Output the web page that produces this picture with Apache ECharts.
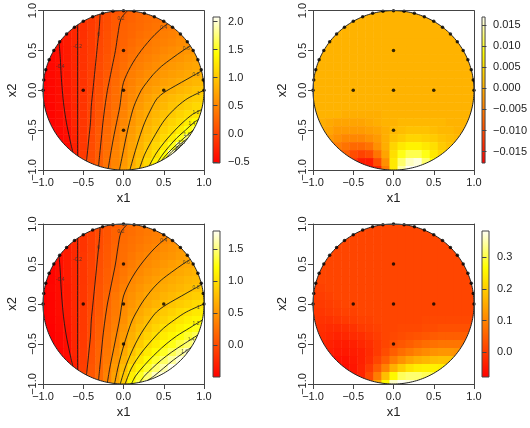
<!DOCTYPE html>
<html>
<head>
<meta charset="utf-8">
<title>Disk surfaces</title>
<script src="https://cdn.jsdelivr.net/npm/echarts@6/dist/echarts.min.js"></script>
<style>
  html, body { margin: 0; background: #fff; }
  #main { width: 530px; height: 428px; }
</style>
</head>
<body>
<div id="main"></div>
<script>
// grid nodes along each axis (step 0.1); every surface row below only lists
// the cells that touch the disk, centred on x1 = 0, top row (x2 = 1) first
var nodes = [-1, -0.9, -0.8, -0.7, -0.6, -0.5, -0.4, -0.3, -0.2, -0.1, 0,
  0.1, 0.2, 0.3, 0.4, 0.5, 0.6, 0.7, 0.8, 0.9, 1];

// top left surface
var surfA = [
  [0.0, 0.06, 0.12, 0.18, 0.23, 0.27, 0.30],
  [-0.12, -0.08, 0.0, 0.07, 0.16, 0.21, 0.24, 0.28, 0.31, 0.34, 0.36],
  [-0.25, -0.22, -0.15, -0.07, 0.0, 0.08, 0.16, 0.22, 0.26, 0.29, 0.33, 0.36, 0.40, 0.43, 0.45],
  [-0.34, -0.31, -0.23, -0.15, -0.07, 0.01, 0.09, 0.18, 0.23, 0.27, 0.32, 0.36, 0.40, 0.44, 0.47, 0.51, 0.52],
  [-0.40, -0.31, -0.23, -0.14, -0.06, 0.02, 0.10, 0.19, 0.24, 0.30, 0.35, 0.40, 0.44, 0.47, 0.50, 0.54, 0.57],
  [-0.46, -0.41, -0.32, -0.23, -0.14, -0.06, 0.03, 0.11, 0.20, 0.26, 0.33, 0.39, 0.43, 0.47, 0.51, 0.55, 0.59, 0.62, 0.64],
  [-0.47, -0.41, -0.32, -0.23, -0.14, -0.05, 0.04, 0.13, 0.22, 0.29, 0.36, 0.42, 0.47, 0.51, 0.56, 0.60, 0.63, 0.67, 0.70],
  [-0.50, -0.47, -0.41, -0.32, -0.23, -0.14, -0.05, 0.05, 0.14, 0.24, 0.32, 0.41, 0.46, 0.51, 0.56, 0.61, 0.65, 0.68, 0.72, 0.75, 0.77],
  [-0.51, -0.46, -0.41, -0.33, -0.23, -0.13, -0.04, 0.06, 0.16, 0.26, 0.36, 0.44, 0.50, 0.56, 0.61, 0.65, 0.69, 0.72, 0.76, 0.80, 0.84],
  [-0.52, -0.47, -0.42, -0.33, -0.23, -0.13, -0.03, 0.07, 0.18, 0.29, 0.40, 0.47, 0.54, 0.61, 0.65, 0.70, 0.74, 0.79, 0.84, 0.88, 0.92],
  [-0.52, -0.47, -0.42, -0.34, -0.23, -0.13, -0.02, 0.09, 0.20, 0.31, 0.42, 0.50, 0.58, 0.65, 0.71, 0.77, 0.82, 0.87, 0.91, 0.96, 1.00],
  [-0.52, -0.47, -0.42, -0.34, -0.23, -0.12, -0.01, 0.10, 0.22, 0.32, 0.43, 0.53, 0.62, 0.70, 0.78, 0.84, 0.90, 0.95, 1.00, 1.05, 1.09],
  [-0.52, -0.48, -0.43, -0.35, -0.24, -0.12, 0.0, 0.12, 0.23, 0.34, 0.45, 0.57, 0.66, 0.75, 0.83, 0.89, 0.96, 1.02, 1.07, 1.13, 1.18],
  [-0.52, -0.49, -0.44, -0.37, -0.24, -0.12, 0.01, 0.13, 0.25, 0.36, 0.48, 0.60, 0.70, 0.79, 0.87, 0.95, 1.02, 1.09, 1.16, 1.24, 1.31],
  [-0.50, -0.45, -0.39, -0.24, -0.11, 0.01, 0.14, 0.27, 0.38, 0.51, 0.63, 0.73, 0.83, 0.92, 1.01, 1.09, 1.17, 1.29, 1.43],
  [-0.50, -0.46, -0.41, -0.25, -0.11, 0.03, 0.16, 0.28, 0.41, 0.54, 0.66, 0.77, 0.87, 0.97, 1.07, 1.16, 1.29, 1.46, 1.62],
  [-0.48, -0.42, -0.26, -0.10, 0.04, 0.17, 0.30, 0.43, 0.56, 0.69, 0.81, 0.92, 1.03, 1.14, 1.29, 1.49, 1.75],
  [-0.46, -0.44, -0.28, -0.09, 0.05, 0.18, 0.32, 0.46, 0.59, 0.72, 0.85, 0.99, 1.11, 1.26, 1.49, 1.85, 2.02],
  [-0.35, -0.30, -0.08, 0.07, 0.19, 0.34, 0.48, 0.61, 0.75, 0.90, 1.05, 1.20, 1.44, 1.90, 2.00],
  [-0.02, 0.08, 0.21, 0.36, 0.50, 0.64, 0.79, 0.96, 1.13, 1.33, 1.55],
  [0.21, 0.38, 0.53, 0.67, 0.83, 1.00, 1.17]
];
// top right surface
var surfB = [
  [0.0005, 0.0005, 0.0005, 0.0005, 0.0005, 0.0005, 0.0005],
  [0.0005, 0.0005, 0.0005, 0.0005, 0.0005, 0.0005, 0.0005, 0.0005, 0.0005, 0.0005, 0.0005],
  [0.0005, 0.0005, 0.0005, 0.0005, 0.0005, 0.0005, 0.0005, 0.0005, 0.0005, 0.0005, 0.0005, 0.0005, 0.0005, 0.0005, 0.0005],
  [0.0005, 0.0005, 0.0005, 0.0005, 0.0005, 0.0005, 0.0005, 0.0005, 0.0005, 0.0005, 0.0005, 0.0005, 0.0005, 0.0005, 0.0005, 0.0005, 0.0005],
  [0.0005, 0.0005, 0.0005, 0.0005, 0.0005, 0.0005, 0.0005, 0.0005, 0.0005, 0.0005, 0.0005, 0.0005, 0.0005, 0.0005, 0.0005, 0.0005, 0.0005],
  [0.0005, 0.0005, 0.0005, 0.0005, 0.0005, 0.0005, 0.0005, 0.0005, 0.0005, 0.0005, 0.0005, 0.0005, 0.0005, 0.0005, 0.0005, 0.0005, 0.0005, 0.0005, 0.0005],
  [0.0005, 0.0005, 0.0005, 0.0005, 0.0005, 0.0005, 0.0005, 0.0005, 0.0005, 0.0005, 0.0005, 0.0005, 0.0005, 0.0005, 0.0005, 0.0005, 0.0005, 0.0005, 0.0005],
  [0.0005, 0.0005, 0.0005, 0.0005, 0.0005, 0.0005, 0.0005, 0.0005, 0.0005, 0.0005, 0.0005, 0.0005, 0.0005, 0.0005, 0.0005, 0.0005, 0.0005, 0.0005, 0.0005, 0.0005, 0.0005],
  [0.0005, 0.0005, 0.0005, 0.0005, 0.0005, 0.0005, 0.0005, 0.0005, 0.0005, 0.0005, 0.0005, 0.0005, 0.0005, 0.0005, 0.0005, 0.0005, 0.0005, 0.0005, 0.0005, 0.0005, 0.0005],
  [0.0005, 0.0005, 0.0005, 0.0005, 0.0005, 0.0005, 0.0005, 0.0005, 0.0005, 0.0005, 0.0005, 0.0005, 0.0005, 0.0005, 0.0005, 0.0005, 0.0005, 0.0005, 0.0005, 0.0005, 0.0005],
  [0.0005, 0.0005, 0.0005, 0.0005, 0.0005, 0.0005, 0.0005, 0.0005, 0.0005, 0.0005, 0.0005, 0.0005, 0.0005, 0.0005, 0.0005, 0.0005, 0.0005, 0.0005, 0.0005, 0.0005, 0.0005],
  [0.0005, 0.0005, 0.0005, 0.0005, 0.0005, 0.0005, 0.0005, 0.0005, 0.0005, 0.0005, 0.0005, 0.0005, 0.0005, 0.0005, 0.0005, 0.0005, 0.0005, 0.0005, 0.0005, 0.0005, 0.0005],
  [0.0005, 0.0005, 0.0005, 0.0005, 0.0005, 0.0005, 0.0005, 0.0005, 0.0005, 0.0005, 0.0005, 0.0005, 0.0005, 0.0005, 0.0005, 0.0005, 0.0005, 0.0005, 0.0005, 0.0005, 0.0005],
  [0.0005, 0.0005, 0.0005, 0.0005, 0.0, 0.0, 0.0, 0.0, 0.0, 0.0005, 0.0005, 0.0005, 0.0005, 0.0005, 0.0005, 0.0005, 0.0005, 0.0005, 0.0005, 0.0005, 0.0005],
  [0.0, -0.0005, -0.001, -0.001, -0.001, -0.001, -0.0005, 0.0, 0.0005, 0.0005, 0.001, 0.001, 0.001, 0.001, 0.001, 0.001, 0.0005, 0.0005, 0.0005],
  [-0.0005, -0.001, -0.002, -0.002, -0.002, -0.002, -0.0015, -0.001, 0.0, 0.001, 0.0015, 0.002, 0.002, 0.002, 0.0015, 0.001, 0.001, 0.0005, 0.0005],
  [-0.002, -0.003, -0.004, -0.004, -0.004, -0.003, -0.002, 0.0, 0.002, 0.003, 0.004, 0.004, 0.0035, 0.003, 0.002, 0.0015, 0.001],
  [-0.003, -0.005, -0.006, -0.007, -0.007, -0.006, -0.003, 0.0, 0.004, 0.006, 0.007, 0.007, 0.006, 0.005, 0.003, 0.002, 0.001],
  [-0.006, -0.008, -0.010, -0.011, -0.010, -0.006, -0.001, 0.005, 0.009, 0.011, 0.011, 0.009, 0.006, 0.004, 0.002],
  [-0.012, -0.015, -0.015, -0.010, -0.003, 0.006, 0.012, 0.015, 0.016, 0.012, 0.008],
  [-0.017, -0.014, -0.005, 0.006, 0.014, 0.017, 0.017]
];
// bottom left surface
var surfC = [
  [0.0, 0.06, 0.12, 0.18, 0.23, 0.27, 0.30],
  [-0.12, -0.08, 0.0, 0.07, 0.16, 0.21, 0.24, 0.28, 0.31, 0.34, 0.36],
  [-0.25, -0.22, -0.15, -0.07, 0.0, 0.08, 0.16, 0.22, 0.26, 0.29, 0.33, 0.36, 0.40, 0.43, 0.45],
  [-0.34, -0.31, -0.23, -0.15, -0.07, 0.01, 0.09, 0.18, 0.23, 0.27, 0.32, 0.36, 0.40, 0.44, 0.47, 0.51, 0.52],
  [-0.40, -0.31, -0.23, -0.14, -0.06, 0.02, 0.10, 0.19, 0.24, 0.30, 0.35, 0.40, 0.44, 0.47, 0.50, 0.54, 0.57],
  [-0.46, -0.41, -0.32, -0.23, -0.14, -0.06, 0.03, 0.11, 0.20, 0.26, 0.33, 0.39, 0.43, 0.47, 0.51, 0.55, 0.59, 0.62, 0.64],
  [-0.47, -0.41, -0.32, -0.23, -0.14, -0.05, 0.04, 0.13, 0.22, 0.29, 0.36, 0.42, 0.47, 0.51, 0.56, 0.60, 0.63, 0.67, 0.70],
  [-0.50, -0.47, -0.41, -0.32, -0.23, -0.14, -0.05, 0.05, 0.14, 0.24, 0.32, 0.41, 0.46, 0.51, 0.56, 0.61, 0.65, 0.68, 0.72, 0.75, 0.77],
  [-0.51, -0.46, -0.41, -0.33, -0.23, -0.13, -0.04, 0.06, 0.16, 0.26, 0.36, 0.44, 0.50, 0.56, 0.61, 0.65, 0.69, 0.72, 0.76, 0.80, 0.84],
  [-0.52, -0.47, -0.42, -0.33, -0.23, -0.13, -0.03, 0.07, 0.18, 0.29, 0.40, 0.47, 0.54, 0.61, 0.65, 0.70, 0.74, 0.79, 0.84, 0.88, 0.92],
  [-0.52, -0.47, -0.42, -0.34, -0.23, -0.13, -0.02, 0.09, 0.20, 0.31, 0.42, 0.50, 0.58, 0.65, 0.71, 0.77, 0.82, 0.87, 0.91, 0.96, 1.00],
  [-0.52, -0.47, -0.42, -0.34, -0.23, -0.12, -0.01, 0.10, 0.22, 0.32, 0.44, 0.54, 0.63, 0.71, 0.79, 0.85, 0.90, 0.96, 1.01, 1.06, 1.10],
  [-0.52, -0.48, -0.43, -0.35, -0.24, -0.12, 0.0, 0.12, 0.23, 0.34, 0.46, 0.59, 0.68, 0.77, 0.85, 0.91, 0.98, 1.04, 1.10, 1.15, 1.20],
  [-0.52, -0.49, -0.44, -0.37, -0.24, -0.12, 0.01, 0.13, 0.25, 0.36, 0.50, 0.63, 0.74, 0.83, 0.92, 1.00, 1.06, 1.13, 1.19, 1.26, 1.31],
  [-0.50, -0.45, -0.39, -0.24, -0.11, 0.01, 0.14, 0.27, 0.39, 0.54, 0.68, 0.80, 0.90, 1.00, 1.08, 1.15, 1.23, 1.31, 1.39],
  [-0.50, -0.46, -0.41, -0.25, -0.11, 0.03, 0.16, 0.28, 0.42, 0.57, 0.73, 0.86, 0.99, 1.08, 1.17, 1.26, 1.36, 1.46, 1.56],
  [-0.48, -0.42, -0.26, -0.10, 0.04, 0.17, 0.30, 0.46, 0.63, 0.80, 0.95, 1.07, 1.18, 1.29, 1.40, 1.53, 1.66],
  [-0.46, -0.44, -0.28, -0.09, 0.05, 0.18, 0.32, 0.50, 0.69, 0.88, 1.05, 1.18, 1.31, 1.44, 1.57, 1.72, 1.75],
  [-0.35, -0.30, -0.08, 0.07, 0.19, 0.35, 0.54, 0.76, 1.00, 1.15, 1.31, 1.46, 1.60, 1.76, 1.74],
  [-0.02, 0.08, 0.21, 0.38, 0.58, 0.83, 1.10, 1.29, 1.47, 1.65, 1.72],
  [0.22, 0.40, 0.63, 0.86, 1.20, 1.40, 1.58]
];
// bottom right surface
var surfD = [
  [0.015, 0.015, 0.015, 0.015, 0.015, 0.015, 0.015],
  [0.015, 0.015, 0.015, 0.015, 0.015, 0.015, 0.015, 0.015, 0.015, 0.015, 0.015],
  [0.015, 0.015, 0.015, 0.015, 0.015, 0.015, 0.015, 0.015, 0.015, 0.015, 0.015, 0.015, 0.015, 0.015, 0.015],
  [0.015, 0.015, 0.015, 0.015, 0.015, 0.015, 0.015, 0.015, 0.015, 0.015, 0.015, 0.015, 0.015, 0.015, 0.015, 0.015, 0.015],
  [0.015, 0.015, 0.015, 0.015, 0.015, 0.015, 0.015, 0.015, 0.015, 0.015, 0.015, 0.015, 0.015, 0.015, 0.015, 0.015, 0.015],
  [0.015, 0.015, 0.015, 0.015, 0.015, 0.015, 0.015, 0.015, 0.015, 0.015, 0.015, 0.015, 0.015, 0.015, 0.015, 0.015, 0.015, 0.015, 0.015],
  [0.015, 0.015, 0.015, 0.015, 0.015, 0.015, 0.015, 0.015, 0.015, 0.015, 0.015, 0.015, 0.015, 0.015, 0.015, 0.015, 0.015, 0.015, 0.015],
  [0.01, 0.015, 0.015, 0.015, 0.015, 0.015, 0.015, 0.015, 0.015, 0.015, 0.015, 0.015, 0.015, 0.015, 0.015, 0.015, 0.015, 0.015, 0.015, 0.015, 0.015],
  [0.005, 0.01, 0.015, 0.015, 0.015, 0.015, 0.015, 0.015, 0.015, 0.015, 0.015, 0.015, 0.015, 0.015, 0.015, 0.015, 0.015, 0.015, 0.015, 0.015, 0.015],
  [0.0, 0.005, 0.01, 0.015, 0.015, 0.015, 0.015, 0.015, 0.015, 0.015, 0.015, 0.015, 0.015, 0.015, 0.015, 0.015, 0.015, 0.015, 0.015, 0.015, 0.015],
  [0.0, 0.0, 0.005, 0.01, 0.015, 0.015, 0.015, 0.015, 0.015, 0.015, 0.015, 0.015, 0.015, 0.015, 0.015, 0.015, 0.015, 0.015, 0.015, 0.015, 0.015],
  [-0.005, -0.005, 0.0, 0.005, 0.01, 0.01, 0.015, 0.015, 0.015, 0.015, 0.015, 0.015, 0.015, 0.015, 0.015, 0.015, 0.015, 0.015, 0.015, 0.015, 0.015],
  [-0.005, -0.01, -0.01, -0.005, 0.0, 0.005, 0.01, 0.01, 0.015, 0.015, 0.015, 0.015, 0.015, 0.015, 0.02, 0.02, 0.02, 0.02, 0.02, 0.02, 0.02],
  [-0.01, -0.015, -0.02, -0.02, -0.015, -0.01, 0.0, 0.005, 0.01, 0.015, 0.015, 0.02, 0.02, 0.02, 0.025, 0.025, 0.03, 0.03, 0.03, 0.03, 0.03],
  [-0.02, -0.025, -0.03, -0.025, -0.02, -0.015, -0.005, 0.005, 0.015, 0.02, 0.025, 0.03, 0.035, 0.04, 0.045, 0.05, 0.05, 0.05, 0.05],
  [-0.025, -0.035, -0.04, -0.04, -0.035, -0.025, -0.015, 0.0, 0.015, 0.03, 0.04, 0.05, 0.06, 0.07, 0.075, 0.08, 0.08, 0.08, 0.075],
  [-0.04, -0.045, -0.045, -0.04, -0.035, -0.02, 0.0, 0.025, 0.05, 0.07, 0.085, 0.10, 0.11, 0.12, 0.125, 0.125, 0.12],
  [-0.05, -0.055, -0.055, -0.045, -0.035, -0.015, 0.015, 0.05, 0.09, 0.12, 0.145, 0.16, 0.17, 0.18, 0.185, 0.185, 0.18],
  [-0.06, -0.06, -0.05, -0.03, 0.0, 0.045, 0.10, 0.16, 0.20, 0.23, 0.245, 0.25, 0.25, 0.245, 0.24],
  [-0.05, -0.03, 0.02, 0.09, 0.18, 0.26, 0.31, 0.32, 0.32, 0.31, 0.30],
  [0.06, 0.15, 0.26, 0.36, 0.38, 0.37, 0.36]
];

// colour bar ranges and ticks
var rangeA = [-0.52, 2.08], ticksA = [-0.5, 0, 0.5, 1, 1.5, 2];
var rangeB = [-0.0177, 0.0169], ticksB = [-0.015, -0.01, -0.005, 0, 0.005, 0.01, 0.015];
var rangeC = [-0.5, 1.78], ticksC = [0, 0.5, 1, 1.5];
var rangeD = [-0.078, 0.383], ticksD = [0, 0.1, 0.2, 0.3];

// design points
var edgeX1 = [1, 0.991, 0.966, 0.924, 0.866, 0.793, 0.707, 0.609, 0.5, 0.383, 0.259, 0.131, 0,
  -0.131, -0.259, -0.383, -0.5, -0.609, -0.707, -0.793, -0.866, -0.924, -0.966, -0.991, -1];
var edgeX2 = [0, 0.131, 0.259, 0.383, 0.5, 0.609, 0.707, 0.793, 0.866, 0.924, 0.966, 0.991, 1,
  0.991, 0.966, 0.924, 0.866, 0.793, 0.707, 0.609, 0.5, 0.383, 0.259, 0.131, 0];
var innerX1 = [0, -0.5, 0, 0.5, 0];
var innerX2 = [0.5, 0, 0, 0, -0.5];

// contour lines, with a label spot for each
var leftContours = [
  {level: '-0.4', at: [-0.785, 0.3], pts: [[-0.8, 0.6], [-0.785, 0.4], [-0.775, 0.2], [-0.76, 0], [-0.74, -0.2], [-0.71, -0.4], [-0.67, -0.6], [-0.63, -0.776]]},
  {level: '-0.2', at: [-0.57, 0.55], pts: [[-0.57, 0.822], [-0.57, 0], [-0.57, -0.822]]},
  {level: '0', at: [-0.31, 0.7], pts: [[-0.29, 0.957], [-0.30, 0.8], [-0.32, 0.6], [-0.34, 0.4], [-0.36, 0.2], [-0.38, 0], [-0.40, -0.2], [-0.41, -0.4], [-0.43, -0.6], [-0.45, -0.8], [-0.46, -0.888]]},
  {level: '0.2', at: [-0.03, 0.9], pts: [[0.05, 0.999], [-0.03, 0.9], [-0.07, 0.7], [-0.1, 0.5], [-0.14, 0.3], [-0.18, 0.1], [-0.2, 0], [-0.23, -0.2], [-0.255, -0.4], [-0.275, -0.6], [-0.295, -0.8], [-0.31, -0.951]]}
];
var contoursA = leftContours.concat([
  {level: '0.4', at: [0.5, 0.79], pts: [[0.55, 0.835], [0.5, 0.8], [0.39, 0.7], [0.3, 0.6], [0.22, 0.5], [0.15, 0.4], [0.09, 0.3], [0.04, 0.2], [0.0, 0.1], [-0.02, 0], [-0.045, -0.2], [-0.085, -0.4], [-0.125, -0.6], [-0.16, -0.8], [-0.19, -0.982]]},
  {level: '0.6', at: [0.78, 0.52], pts: [[0.83, 0.558], [0.74, 0.5], [0.6, 0.4], [0.47, 0.3], [0.37, 0.2], [0.29, 0.1], [0.22, 0], [0.13, -0.2], [0.075, -0.4], [0.03, -0.6], [-0.01, -0.8], [-0.05, -0.999]]},
  {level: '0.8', at: [0.9, 0.2], pts: [[0.97, 0.243], [0.86, 0.18], [0.72, 0.1], [0.58, 0.02], [0.5, -0.03], [0.42, -0.1], [0.36, -0.2], [0.265, -0.4], [0.195, -0.6], [0.135, -0.8], [0.08, -0.997]]},
  {level: '1', at: [0.93, -0.04], pts: [[1, 0], [0.8, -0.1], [0.67, -0.2], [0.57, -0.3], [0.49, -0.4], [0.37, -0.6], [0.265, -0.8], [0.2, -0.98]]},
  {level: '1.2', at: [0.9, -0.28], pts: [[0.97, -0.243], [0.86, -0.3], [0.74, -0.4], [0.64, -0.5], [0.55, -0.6], [0.47, -0.7], [0.40, -0.8], [0.32, -0.947]]},
  {level: '1.4', at: [0.85, -0.42], pts: [[0.93, -0.368], [0.88, -0.4], [0.77, -0.5], [0.66, -0.6], [0.57, -0.7], [0.49, -0.8], [0.42, -0.907]]},
  {level: '1.6', at: [0.79, -0.56], pts: [[0.866, -0.5], [0.75, -0.6], [0.64, -0.7], [0.54, -0.8], [0.47, -0.883]]},
  {level: '1.8', at: [0.72, -0.655], pts: [[0.8, -0.6], [0.7, -0.68], [0.6, -0.77], [0.53, -0.848]]},
  {level: '2', at: [0.66, -0.735], pts: [[0.74, -0.673], [0.68, -0.715], [0.63, -0.776]]}
]);
var contoursC = leftContours.concat([
  {level: '0.4', at: [0.5, 0.79], pts: [[0.55, 0.835], [0.5, 0.8], [0.39, 0.7], [0.3, 0.6], [0.22, 0.5], [0.15, 0.4], [0.09, 0.3], [0.04, 0.2], [0.0, 0.1], [-0.02, 0], [-0.05, -0.2], [-0.09, -0.4], [-0.13, -0.6], [-0.17, -0.8], [-0.2, -0.98]]},
  {level: '0.6', at: [0.78, 0.52], pts: [[0.83, 0.558], [0.74, 0.5], [0.6, 0.4], [0.47, 0.3], [0.37, 0.2], [0.29, 0.1], [0.22, 0], [0.11, -0.2], [0.04, -0.4], [-0.02, -0.6], [-0.07, -0.8], [-0.11, -0.994]]},
  {level: '0.8', at: [0.9, 0.2], pts: [[0.97, 0.243], [0.86, 0.18], [0.72, 0.1], [0.58, 0.02], [0.5, -0.03], [0.41, -0.1], [0.33, -0.2], [0.2, -0.4], [0.1, -0.6], [0.02, -0.8], [-0.04, -0.999]]},
  {level: '1', at: [0.93, -0.04], pts: [[1, 0], [0.78, -0.1], [0.63, -0.2], [0.5, -0.3], [0.4, -0.4], [0.23, -0.6], [0.1, -0.8], [0.02, -1]]},
  {level: '1.2', at: [0.9, -0.25], pts: [[0.98, -0.2], [0.82, -0.3], [0.66, -0.4], [0.53, -0.5], [0.42, -0.6], [0.32, -0.7], [0.23, -0.8], [0.15, -0.9], [0.1, -0.995]]},
  {level: '1.4', at: [0.84, -0.44], pts: [[0.92, -0.39], [0.75, -0.5], [0.6, -0.6], [0.47, -0.7], [0.36, -0.8], [0.26, -0.9], [0.2, -0.98]]},
  {level: '1.6', at: [0.76, -0.6], pts: [[0.84, -0.542], [0.76, -0.6], [0.62, -0.7], [0.5, -0.8], [0.38, -0.9], [0.3, -0.954]]}
]);

var heatStops = ['#ff0000', '#ff5500', '#ffaa00', '#ffff00', '#fffff6'];
var FONT = 'Liberation Sans, Arial, sans-serif';

var panels = [
  {surf: surfA, range: rangeA, ticks: ticksA, digits: 1, contours: contoursA, plot: [43, 10], bar: [213, 17]},
  {surf: surfB, range: rangeB, ticks: ticksB, digits: 3, contours: [], plot: [313, 10], bar: [482, 17]},
  {surf: surfC, range: rangeC, ticks: ticksC, digits: 1, contours: contoursC, plot: [43, 224], bar: [213, 231]},
  {surf: surfD, range: rangeD, ticks: ticksD, digits: 1, contours: [], plot: [313, 224], bar: [482, 231]}
];

function fmt(v, d) {
  var s = Math.abs(v).toFixed(d);
  return v < -1e-12 ? '\u2212' + s : s;
}

function plotAxis(kind, g, pos, labelled) {
  var ax = {
    gridIndex: g, type: 'value', position: pos, min: -1, max: 1, interval: 0.5, z: 10,
    axisLine: {show: true, onZero: false, lineStyle: {color: '#444', width: 1}},
    axisTick: {show: labelled, inside: false, length: 5, lineStyle: {color: '#444'}},
    axisLabel: {
      show: labelled, fontSize: 11, color: '#222', fontFamily: FONT,
      showMinLabel: true, showMaxLabel: true,
      formatter: function (v) { return fmt(v, 1); }
    },
    splitLine: {show: false}
  };
  if (labelled) {
    ax.name = kind === 'x' ? 'x1' : 'x2';
    ax.nameLocation = 'middle';
    ax.nameTextStyle = {fontSize: 13, color: '#222', fontFamily: FONT};
    if (kind === 'x') {
      ax.axisLabel.margin = 7;
      ax.nameGap = 22;
    } else {
      ax.axisLabel.margin = 5;
      ax.axisLabel.rotate = 90;
      ax.nameGap = 24;
    }
  }
  return ax;
}

var option = {
  animation: false,
  backgroundColor: '#fff',
  grid: [], xAxis: [], yAxis: [], visualMap: [], series: []
};

panels.forEach(function (p) {
  var g = option.grid.length;
  option.grid.push({left: p.plot[0], top: p.plot[1], width: 161, height: 160, show: false});
  option.grid.push({left: p.bar[0], top: p.bar[1], width: 7, height: 146, show: false});

  var xi = option.xAxis.length, yi = option.yAxis.length;
  option.xAxis.push(plotAxis('x', g, 'bottom', true), plotAxis('x', g, 'top', false),
    {gridIndex: g + 1, type: 'value', min: 0, max: 1, show: false});
  option.yAxis.push(plotAxis('y', g, 'left', true), plotAxis('y', g, 'right', false), {
    gridIndex: g + 1, type: 'value', position: 'right', min: p.range[0], max: p.range[1], z: 10,
    axisLine: {show: false},
    axisTick: {show: true, length: 4.5, customValues: p.ticks, lineStyle: {color: '#444'}},
    axisLabel: {
      show: true, customValues: p.ticks, margin: 8, fontSize: 11, color: '#222', fontFamily: FONT,
      formatter: function (v) { return fmt(v, p.digits); }
    },
    splitLine: {show: false}
  });

  // heat cells: each row is centred on the middle node
  var n = nodes.length, cells = [];
  p.surf.forEach(function (row, r) {
    var off = (n - row.length) / 2;
    row.forEach(function (v, c) {
      cells.push([nodes[off + c], nodes[n - 1 - r], v]);
    });
  });
  var half = Math.abs(nodes[1] - nodes[0]) / 2;
  option.visualMap.push({
    type: 'continuous', show: false, seriesIndex: option.series.length, dimension: 2,
    min: p.range[0], max: p.range[1], inRange: {color: heatStops}
  });
  option.series.push({
    type: 'custom', xAxisIndex: xi, yAxisIndex: yi, data: cells, silent: true, z: 1,
    renderItem: function (params, api) {
      var x = api.value(0), y = api.value(1);
      var a = api.coord([Math.max(x - half, -1), Math.min(y + half, 1)]);
      var b = api.coord([Math.min(x + half, 1), Math.max(y - half, -1)]);
      return {
        type: 'rect',
        shape: {x: a[0], y: a[1], width: b[0] - a[0] + 0.5, height: b[1] - a[1] + 0.5},
        style: {fill: api.visual('color')}
      };
    }
  });

  // white mask outside the disk, plus the disk outline
  option.series.push({
    type: 'custom', xAxisIndex: xi, yAxisIndex: yi, data: [[0, 0]], silent: true, z: 2,
    renderItem: function (params, api) {
      var tl = api.coord([-1, 1]), br = api.coord([1, -1]), c = api.coord([0, 0]);
      var rx = (br[0] - tl[0]) / 2, ry = (br[1] - tl[1]) / 2;
      var d = 'M' + (tl[0] - 1) + ' ' + (tl[1] - 1) + 'L' + (br[0] + 1) + ' ' + (tl[1] - 1) +
        'L' + (br[0] + 1) + ' ' + (br[1] + 1) + 'L' + (tl[0] - 1) + ' ' + (br[1] + 1) + 'Z';
      var ring = [];
      for (var k = 0; k < 240; k++) {
        var t = k / 240 * 2 * Math.PI;
        ring.push([c[0] + rx * Math.cos(t), c[1] - ry * Math.sin(t)]);
      }
      d += 'M' + ring.map(function (q) { return q[0].toFixed(2) + ' ' + q[1].toFixed(2); }).join('L') + 'Z';
      return {
        type: 'group',
        children: [
          {type: 'path', shape: {pathData: d}, style: {fill: '#fff'}},
          {type: 'polygon', shape: {points: ring}, style: {fill: 'none', stroke: '#222', lineWidth: 1}}
        ]
      };
    }
  });

  // contour lines and their small level labels
  p.contours.forEach(function (ct) {
    option.series.push({
      type: 'line', xAxisIndex: xi, yAxisIndex: yi, data: ct.pts, smooth: 0.3,
      showSymbol: false, silent: true, z: 3,
      lineStyle: {color: '#1a1a1a', width: 0.9}
    });
  });
  if (p.contours.length) {
    option.series.push({
      type: 'scatter', xAxisIndex: xi, yAxisIndex: yi, symbolSize: 0, silent: true, z: 4,
      data: p.contours.map(function (ct) { return [ct.at[0], ct.at[1], ct.level]; }),
      label: {
        show: true, position: 'inside', fontSize: 5, color: '#333', fontFamily: FONT,
        formatter: function (q) { return q.value[2]; }
      }
    });
  }

  // colour bar
  option.series.push({
    type: 'custom', xAxisIndex: xi + 2, yAxisIndex: yi + 2, data: [[0, p.range[0], p.range[1]]],
    silent: true, z: 2,
    renderItem: function (params, api) {
      var a = api.coord([0, api.value(2)]), b = api.coord([1, api.value(1)]);
      var stops = heatStops.map(function (col, k) { return {offset: k / (heatStops.length - 1), color: col}; });
      return {
        type: 'rect',
        shape: {x: a[0], y: a[1], width: b[0] - a[0], height: b[1] - a[1]},
        style: {fill: new echarts.graphic.LinearGradient(0, 1, 0, 0, stops), stroke: '#444', lineWidth: 1}
      };
    }
  });

  // design points
  var pts = edgeX1.map(function (x, k) { return [x, edgeX2[k]]; })
    .concat(innerX1.map(function (x, k) { return [x, innerX2[k]]; }));
  option.series.push({
    type: 'scatter', xAxisIndex: xi, yAxisIndex: yi, data: pts, symbolSize: 3.5, silent: true, z: 6,
    itemStyle: {color: '#000'}
  });
});

var chart = echarts.init(document.getElementById('main'), null, {renderer: 'canvas'});
chart.setOption(option);
</script>
</body>
</html>
